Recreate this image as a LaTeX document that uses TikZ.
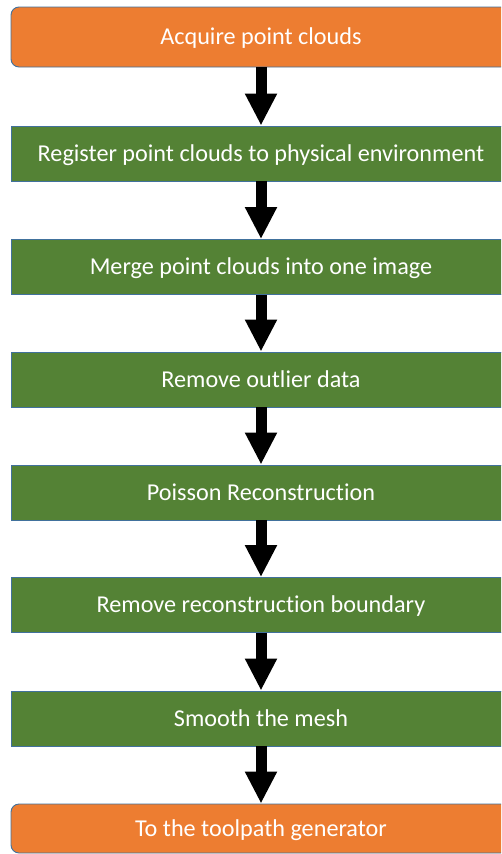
\documentclass[tikz,border=0pt]{standalone}
\usepackage{fontspec}
\setmainfont{Carlito}[Ligatures=NoCommon]
\usetikzlibrary{arrows.meta}
\definecolor{stepgreen}{HTML}{548235}
\definecolor{steporange}{HTML}{ED7D31}
\definecolor{stepline}{HTML}{41719C}
\tikzset{
  stepbox/.style={draw=stepline,line width=0.9pt,fill=stepgreen,text=white,
    minimum width=500pt,minimum height=55pt,inner sep=0pt,
    text height=15.6pt,text depth=0pt,
    font=\fontsize{24.2}{28}\selectfont},
  endbox/.style={stepbox,fill=steporange,rounded corners=8pt},
  flow/.style={line width=11pt,-{Triangle[width=30pt,length=32pt]}}
}
\begin{document}
\begin{tikzpicture}[x=1pt,y=-1pt]
\useasboundingbox (0,0) rectangle (501,854);
\clip (0,0) rectangle (501,854);
\node[endbox,minimum height=60pt] (acquire) at (261,37) {Acquire point clouds};
\node[stepbox] (register) at (261,153.5) {Register point clouds to physical environment};
\node[stepbox] (merge) at (261,267) {Merge point clouds into one image};
\node[stepbox] (outlier) at (261,379.5) {Remove outlier data};
\node[stepbox] (poisson) at (261,492.5) {Poisson Reconstruction};
\node[stepbox] (boundary) at (261,605) {Remove reconstruction boundary};
\node[stepbox] (smooth) at (261,718.5) {Smooth the mesh};
\node[endbox,minimum height=49pt] (toolpath) at (261,828.5) {To the toolpath generator};
% arrows between the steps
\draw[flow] (acquire) -- (register);
\draw[flow] (register) -- (merge);
\draw[flow] (merge) -- (outlier);
\draw[flow] (outlier) -- (poisson);
\draw[flow] (poisson) -- (boundary);
\draw[flow] (boundary) -- (smooth);
\draw[flow] (smooth) -- (toolpath);
\end{tikzpicture}
\end{document}
